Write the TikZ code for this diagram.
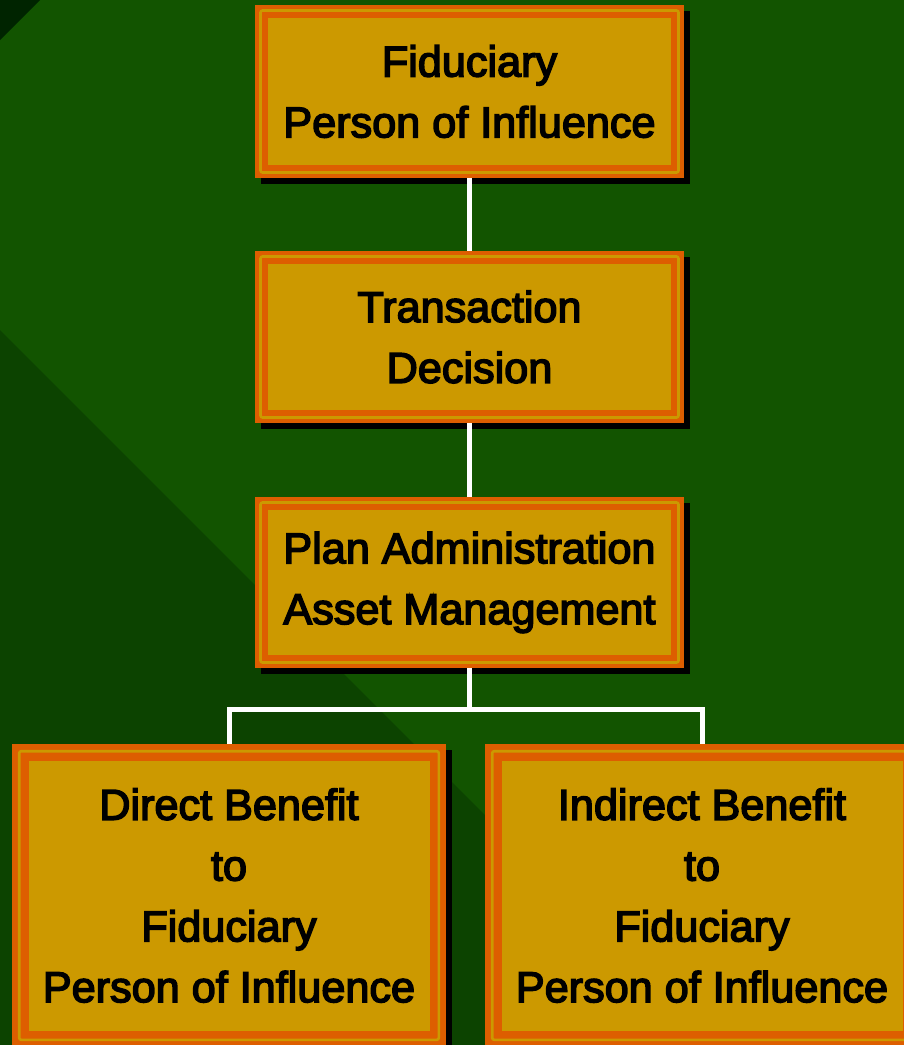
\documentclass[tikz,border=0pt]{standalone}
\usepackage{fontspec}
\newfontfamily\boxfont{Liberation Sans}[FakeBold=3.5]
\usetikzlibrary{calc}
\definecolor{bgC}{HTML}{125400}
\definecolor{bgdarkC}{HTML}{0C4300}
\definecolor{cornerC}{HTML}{002400}
\definecolor{orangeC}{HTML}{DD5E00}
\definecolor{goldC}{HTML}{CC9900}
\tikzset{
  framed/.style 2 args={rectangle, fill=orangeC, inner sep=0pt, align=center,
    font=\boxfont\fontsize{43.2}{60.8}\selectfont, text=black,
    preaction={fill=black, transform canvas={xshift=6pt,yshift=-6pt}},
    path picture={
      \fill[goldC] ([xshift=#2pt,yshift=-#2pt]path picture bounding box.north west)
        rectangle ([xshift=-#2pt,yshift=#2pt]path picture bounding box.south east);
      \draw[goldC, line width=2.6pt, rounded corners=2pt]
        ([xshift=#1pt,yshift=-#1pt]path picture bounding box.north west)
        rectangle ([xshift=-#1pt,yshift=#1pt]path picture bounding box.south east);
    }},
  smallbox/.style={framed={5.5}{13}, minimum width=429pt},
  bigbox/.style={framed={7.2}{16.5}, minimum width=434pt, minimum height=303pt},
  link/.style={draw=white, line width=5pt, line join=miter}
}
\begin{document}
\begin{tikzpicture}[x=1pt,y=-1pt]
\useasboundingbox (0,0) rectangle (904,1045);
\clip (0,0) rectangle (904,1045);
% background
\fill[bgC] (0,0) rectangle (904,1045);
\fill[bgdarkC] (0,330) -- (715,1045) -- (0,1045) -- cycle;
\fill[cornerC] (0,0) -- (40,0) -- (0,40) -- cycle;
% boxes
\node[smallbox, minimum height=173pt] (fid) at (469.5,91.5) {Fiduciary\\Person of Influence};
\node[smallbox, minimum height=172pt] (trans) at (469.5,337) {Transaction\\Decision};
\node[smallbox, minimum height=171pt] (plan) at (469.5,582.5) {Plan Administration\\Asset Management};
\node[bigbox] (direct) at (229,895.5) {Direct Benefit\\to\\Fiduciary\\Person of Influence};
\node[bigbox] (indirect) at (702,895.5) {Indirect Benefit\\to\\Fiduciary\\Person of Influence};
% connectors
\draw[link] (fid.south) -- (trans.north);
\draw[link] (trans.south) -- (plan.north);
\coordinate (split) at ($(plan.south)+(0,41)$);
\draw[link] (plan.south) -- (split) -| (direct.north);
\draw[link] (split) -| (indirect.north);
\end{tikzpicture}
\end{document}
